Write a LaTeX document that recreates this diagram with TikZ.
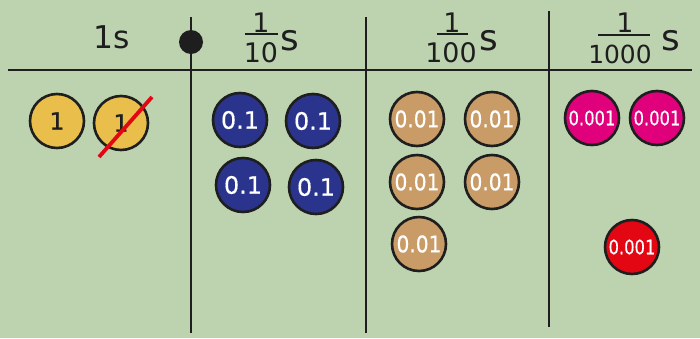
\documentclass[tikz,border=0pt]{standalone}
\usepackage{fontspec}
\setmainfont{DejaVu Sans}
\newfontfamily\coinfont[FakeBold=0.5]{DejaVu Sans}
\newfontfamily\hundfont[FakeStretch=0.88,FakeBold=0.5]{DejaVu Sans}
\newfontfamily\thoufont[FakeStretch=0.82,FakeBold=0.4]{DejaVu Sans}
\begin{document}
\begin{tikzpicture}[x=1bp,y=-1bp,
  rule/.style={line width=2.2bp,draw=linec},
  coin/.style={circle,draw=linec,line width=2.6bp,minimum size=54bp,inner sep=0pt,font=\coinfont\fontsize{24}{24}\selectfont},
  onecoin/.style={coin,fill=ycol,text=linec},
  tenth/.style={coin,fill=bcol,text=white},
  hund/.style={coin,fill=tcol,text=white,font=\hundfont\fontsize{23}{23}\selectfont},
  thou/.style={coin,fill=mcol,text=white,font=\thoufont\fontsize{20}{20}\selectfont},
  head/.style={inner sep=0pt,anchor=base,text=linec,font=\fontsize{31.5}{31.5}\selectfont},
  ess/.style={inner sep=0pt,anchor=base,text=linec,font=\fontsize{36}{36}\selectfont},
  num/.style={inner sep=0pt,anchor=base,text=linec,font=\fontsize{27}{27}\selectfont},
  bar/.style={line width=1.6bp,draw=linec}]
\definecolor{bg}{HTML}{BDD3B0}
\definecolor{linec}{HTML}{1E1E1E}
\definecolor{ycol}{HTML}{E9BE4B}
\definecolor{bcol}{HTML}{2A348C}
\definecolor{tcol}{HTML}{C99B66}
\definecolor{mcol}{HTML}{E1007B}
\definecolor{rcol}{HTML}{E30613}
\fill[bg] (0,0) rectangle (700,338);
\useasboundingbox (0,0) rectangle (700,338);
% grid lines
\coordinate (hl) at (8,70); \coordinate (hr) at (692,70);
\coordinate (v1t) at (191,17); \coordinate (v1b) at (191,333);
\coordinate (v2t) at (366,17); \coordinate (v2b) at (366,333);
\coordinate (v3t) at (549,11); \coordinate (v3b) at (549,327);
\draw[rule] (hl) -- (hr);
\draw[rule] (v1t) -- (v1b);
\draw[rule] (v2t) -- (v2b);
\draw[rule] (v3t) -- (v3b);
\fill[linec] (191,42) circle (12);
% headers
\node[head] (h1) at (112,48) {1s};
\node[num] (n10) at (261,32) {1};
\coordinate (b10l) at (245,34); \coordinate (b10r) at (278,34);
\draw[bar] (b10l) -- (b10r);
\node[num] (d10) at (261,62.5) {10};
\node[ess] (s10) at (290,50) {s};
\node[num] (n100) at (452,32) {1};
\coordinate (b100l) at (437,34); \coordinate (b100r) at (468,34);
\draw[bar] (b100l) -- (b100r);
\node[num] (d100) at (451,62.5) {100};
\node[ess] (s100) at (489,50) {s};
\node[num] (n1000) at (625,32) {1};
\coordinate (b1000l) at (598,35); \coordinate (b1000r) at (650,35);
\draw[bar] (b1000l) -- (b1000r);
\node[num,font=\fontsize{25}{25}\selectfont] (d1000) at (620,63) {1000};
\node[ess] (s1000) at (671,50) {s};
% coins
\node[onecoin] (y1) at (57,121) {1};
\node[onecoin] (y2) at (121,123) {1};
\coordinate (xa) at (152,97); \coordinate (xb) at (99,157);
\draw[rcol,line width=3.8bp] (xa) -- (xb);
\node[tenth] (b1) at (240,120) {0.1};
\node[tenth] (b2) at (313,121) {0.1};
\node[tenth] (b3) at (243,185) {0.1};
\node[tenth] (b4) at (316,187) {0.1};
\node[hund] (t1) at (417,119) {0.01};
\node[hund] (t2) at (492,119) {0.01};
\node[hund] (t3) at (417,182) {0.01};
\node[hund] (t4) at (492,182) {0.01};
\node[hund] (t5) at (419,244) {0.01};
\node[thou] (m1) at (592,118) {0.001};
\node[thou] (m2) at (657,118) {0.001};
\node[thou,fill=rcol] (r1) at (632,247) {0.001};
\end{tikzpicture}
\end{document}
